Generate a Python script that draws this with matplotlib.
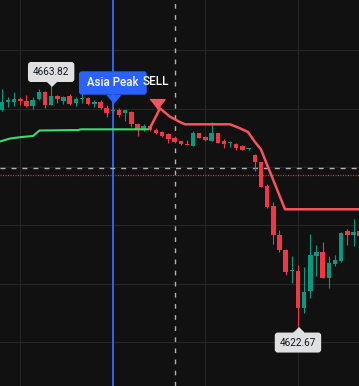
import numpy as np
import matplotlib
matplotlib.use('Agg')  # no display
import matplotlib.pyplot as plt
from matplotlib.transforms import offset_copy

# OHLC, one entry per bar
opens = [4659.66, 4661.03, 4661.06, 4661.62, 4661.28, 4660.43, 4661.57, 4662.82, 4660.60, 4662.14,
         4661.28, 4662.17, 4660.89, 4661.54, 4661.88, 4660.85, 4661.16, 4660.14, 4659.62, 4659.74,
         4659.18, 4659.35, 4657.30, 4656.24, 4657.06, 4656.32, 4656.03, 4655.56, 4655.04, 4654.36,
         4653.97, 4653.62, 4655.76, 4655.18, 4654.44, 4655.81, 4654.44, 4654.02, 4653.93, 4653.59,
         4653.03, 4652.05, 4650.85, 4646.75, 4643.33, 4638.38, 4635.81, 4632.14, 4632.22, 4625.90,
         4628.80, 4634.79, 4635.52, 4631.08, 4633.42, 4633.93, 4639.06, 4638.38, 4639.06]
highs = [4663.33, 4661.97, 4662.74, 4662.05, 4662.26, 4661.97, 4663.33, 4662.99, 4663.82, 4662.31,
         4662.14, 4662.56, 4662.02, 4662.65, 4662.05, 4661.45, 4661.37, 4660.60, 4660.31, 4660.03,
         4659.83, 4659.49, 4657.44, 4657.30, 4657.35, 4656.72, 4656.15, 4655.81, 4655.30, 4654.44,
         4654.62, 4656.07, 4655.81, 4655.30, 4657.74, 4655.81, 4654.87, 4654.53, 4654.02, 4653.68,
         4653.33, 4652.14, 4650.94, 4647.04, 4644.07, 4639.23, 4635.98, 4634.70, 4633.25, 4632.91,
         4638.55, 4636.67, 4637.26, 4634.79, 4634.96, 4638.97, 4639.32, 4641.11, 4639.40]
lows = [4659.57, 4660.26, 4660.51, 4660.60, 4660.34, 4659.86, 4661.40, 4660.09, 4660.55, 4660.94,
        4660.77, 4660.60, 4660.43, 4660.94, 4660.68, 4660.26, 4660.00, 4658.60, 4659.01, 4658.60,
        4657.86, 4656.89, 4655.35, 4656.15, 4656.15, 4655.59, 4655.18, 4654.10, 4654.02, 4653.76,
        4653.83, 4653.54, 4655.01, 4654.44, 4654.44, 4654.10, 4653.25, 4653.50, 4652.91, 4652.91,
        4652.91, 4649.40, 4646.58, 4643.04, 4636.92, 4635.52, 4631.54, 4630.17, 4622.67, 4625.04,
        4627.61, 4631.37, 4630.97, 4629.32, 4633.08, 4633.68, 4636.67, 4636.50, 4637.52]
closes = [4661.11, 4661.37, 4661.66, 4661.20, 4660.43, 4661.40, 4662.85, 4660.68, 4662.14, 4661.57,
          4661.97, 4660.77, 4661.62, 4661.79, 4660.77, 4661.11, 4660.09, 4659.18, 4659.74, 4658.89,
          4659.74, 4657.30, 4656.32, 4657.06, 4656.24, 4655.86, 4655.35, 4654.79, 4654.19, 4653.88,
          4653.83, 4655.81, 4655.01, 4654.70, 4655.81, 4654.10, 4653.85, 4654.14, 4653.20, 4652.94,
          4653.20, 4650.77, 4646.63, 4643.21, 4638.46, 4635.81, 4631.97, 4632.31, 4625.90, 4628.68,
          4634.96, 4635.52, 4631.08, 4633.64, 4634.10, 4638.72, 4638.38, 4638.97, 4638.12]

# trailing lines (bar index, price)
green_x = [-0.3, 1.33, 3.27, 5.06, 6.11, 12.35, 12.84, 23.7]
green_y = [4654.36, 4654.87, 4655.13, 4655.30, 4656.24, 4656.32, 4656.44, 4656.44]
red_x = [24.0, 25.64, 27.26, 28.88, 29.69, 36.98, 38.6, 39.9, 41.04, 42.01, 45.9, 59.0]
red_y = [4656.62, 4660.03, 4658.60, 4657.69, 4657.30, 4657.30, 4656.62, 4655.98, 4654.27,
         4652.99, 4642.77, 4642.77]

session_bar = 18       # Asia Peak marker
sell_bar = 28          # dashed vertical
level_gray = 4649.78
level_red = 4648.58
high_bar, high_price = 8, 4663.82
low_bar, low_price = 48, 4622.67
sell_x, sell_price = 25.15, 4660.8

bg = '#111111'
up_c = '#089981'
dn_c = '#f23645'

fig = plt.figure(figsize=(3.59, 3.86), dpi=100, facecolor=bg)
ax = fig.add_axes([0, 0, 1, 1])
ax.set_facecolor(bg)

# grid
ax.set_xticks([3, 18, 33, 48])
ax.set_yticks([4620, 4630, 4640, 4650, 4660, 4670])
ax.tick_params(length=0, labelbottom=False, labelleft=False)
ax.grid(True, color='#262626', linewidth=0.8)
ax.set_axisbelow(True)
for s in ax.spines.values():
    s.set_visible(False)

ax.axvline(session_bar, color='#2f6bff', linewidth=1.3, zorder=1)
ax.axvline(sell_bar, color='#b0b0b0', linewidth=1.0, linestyle=(0, (3.4, 4.6)), zorder=1)
ax.axhline(level_gray, color='#b0b0b0', linewidth=1.0, linestyle=(0, (3.6, 4.3)), zorder=1)
ax.axhline(level_red, color=dn_c, linewidth=0.9, linestyle=(0, (0.8, 1.2)), zorder=1)

# candles
o = np.array(opens); h = np.array(highs); l = np.array(lows); c = np.array(closes)
x = np.arange(len(o))
cols = np.where(c >= o, up_c, dn_c)
ax.vlines(x, l, h, colors=cols, linewidth=0.8, zorder=2)
bottoms = np.minimum(o, c)
heights = np.maximum(np.abs(c - o), 0.17)
ax.bar(x, heights, bottom=bottoms, width=0.72, color=cols, linewidth=0, zorder=3)

ax.plot(green_x, green_y, color='#3ddc70', linewidth=1.5, zorder=4)
ax.plot(red_x, red_y, color='#f7525f', linewidth=1.8, zorder=4, solid_joinstyle='round')

# SELL marker
ax.plot(sell_x, sell_price, marker=[(-1, 0.65), (1, 0.65), (0, -0.65)], markersize=10.8,
        color='#f7525f', linestyle='none', zorder=5)
ax.text(24.9, 4664.62, 'SELL', color='white', fontsize=8.5, family='Roboto',
        fontweight='medium', ha='center', va='center', zorder=9)

# price labels
down_tip = [(-1, 1), (1, 1), (0, 0)]
up_tip = [(-1, -1), (1, -1), (0, 0)]
ax.plot(high_bar, high_price, marker=down_tip, markersize=7.2, color='#e0e0e0',
        linestyle='none', zorder=6,
        transform=offset_copy(ax.transData, fig, y=0.5, units='dots'))
ax.annotate(f'{high_price:.2f}', (high_bar, high_price), xytext=(0, 10.2),
            textcoords='offset points', ha='center', va='center', fontsize=7.2,
            family='Roboto', color='#131722', zorder=7,
            bbox=dict(boxstyle='round,pad=0.5,rounding_size=0.3', fc='#e0e0e0', ec='none'))

ax.plot(low_bar, low_price, marker=up_tip, markersize=7.2, color='#e0e0e0',
        linestyle='none', zorder=6,
        transform=offset_copy(ax.transData, fig, y=-0.5, units='dots'))
ax.annotate(f'{low_price:.2f}', (low_bar, low_price), xytext=(0, -11.3),
            textcoords='offset points', ha='center', va='center', fontsize=7.2,
            family='Roboto', color='#131722', zorder=7,
            bbox=dict(boxstyle='round,pad=0.5,rounding_size=0.3', fc='#e0e0e0', ec='none'))

# Asia Peak label
asia_price = 4660.99
ax.plot(session_bar, asia_price, marker=[(-1, 1.2), (1, 1.2), (0, 0)], markersize=11.5,
        color='#2962ff', linestyle='none', zorder=6)
ax.annotate(' Asia Peak ', (session_bar, asia_price), xytext=(0, 14.2),
            textcoords='offset points', ha='center', va='center', fontsize=8.3,
            family='Roboto', fontweight='medium', color='white', zorder=7,
            bbox=dict(boxstyle='round,pad=0.45,rounding_size=0.25', fc='#2962ff', ec='none'))

ax.set_xlim(-0.29, 57.89)
ax.set_ylim(4612.56, 4678.55)

fig.savefig('out.png', dpi=100, facecolor=bg)
